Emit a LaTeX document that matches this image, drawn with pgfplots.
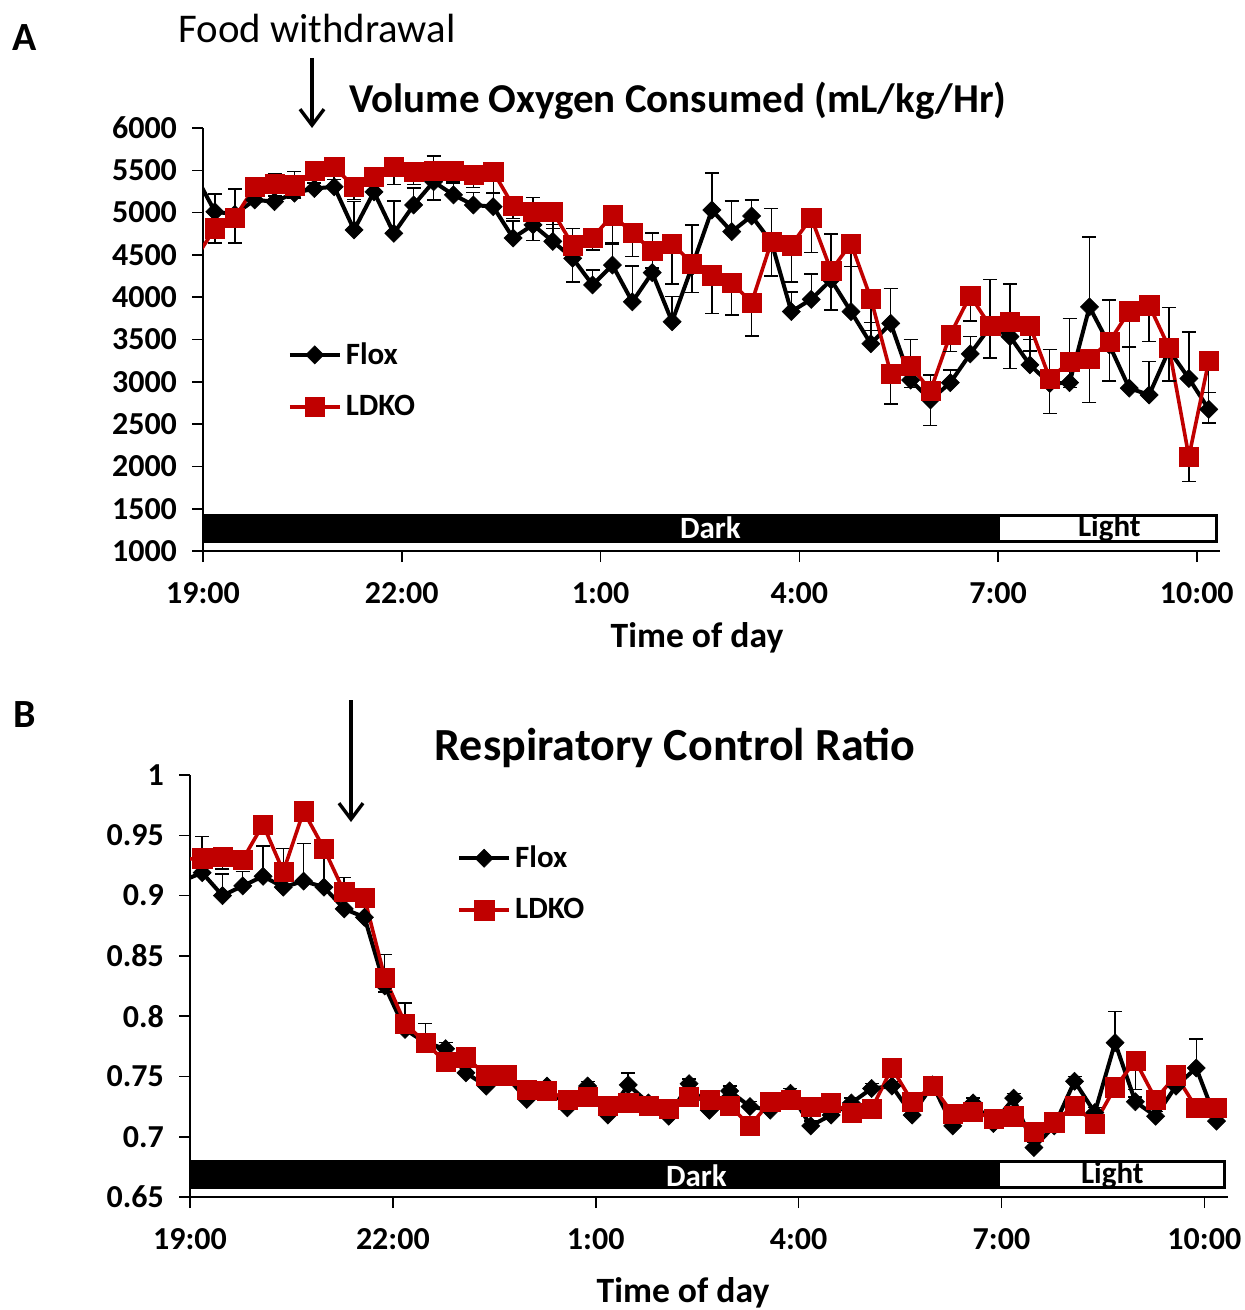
\documentclass[border=0pt]{standalone}
\usepackage{fontspec}
\setmainfont{Carlito}
\usepackage{pgfplots}
\usepackage{pgfplotstable}
\pgfplotsset{compat=1.18}
\usetikzlibrary{arrows.meta}

\definecolor{ldko}{RGB}{192,0,0}

% panel A: volume oxygen consumed, t = hours after 19:00
\pgfplotstableread{
t     flox fe  ldko le
0.18  5010 210 4815 175
0.48  4980 300 4940 300
0.78  5150 200 5305 150
1.08  5130 335 5345 150
1.38  5230 255 5325 150
1.68  5285 150 5500 150
1.98  5305 150 5540 150
2.28  4795 335 5305 150
2.58  5245 150 5425 150
2.88  4755 380 5540 205
3.18  5090 200 5480 150
3.48  5365 305 5500 350
3.78  5210 150 5500 150
4.08  5090 150 5445 150
4.38  5070 160 5485 255
4.68  4700 200 5080 150
4.98  4855 325 5010 340
5.28  4660 200 5010 200
5.58  4460 355 4615 435
5.88  4145 175 4705 145
6.18  4380 250 4970 325
6.48  3945 425 4765 285
6.78  4290 470 4545 200
7.08  3710 300 4635 480
7.38  4360 495 4400 345
7.68  5030 440 4260 450
7.98  4775 360 4175 385
8.28  4960 190 3935 395
8.58  4650 400 4660 410
8.88  3830 230 4615 435
9.18  3975 300 4940 415
9.48  4205 540 4315 465
9.78  3830 530 4635 275
10.08 3450 250 3985 375
10.38 3690 415 3100 360
10.68 3020 480 3190 260
10.98 2785 295 2895 415
11.28 2990 150 3560 205
11.58 3330 205 4020 300
11.88 3650 560 3660 380
12.18 3535 620 3710 550
12.48 3200 300 3665 300
12.78 2980 405 3040 415
13.08 2990 760 3235 300
13.38 3885 825 3275 520
13.68 3435 530 3475 465
13.98 2925 485 3835 425
14.28 2845 395 3905 430
14.58 3375 500 3405 395
14.88 3040 550 2115 290
15.18 2675 200 3245 730
}\tabA

% panel B: respiratory control ratio
\pgfplotstableread{
t     flox  fe    ldko  le
0.18  0.919 0.030 0.931 0.010
0.48  0.900 0.018 0.932 0.010
0.78  0.908 0.012 0.930 0.008
1.08  0.916 0.025 0.959 0.008
1.38  0.907 0.032 0.920 0.008
1.68  0.912 0.031 0.970 0.008
1.98  0.907 0.028 0.939 0.008
2.28  0.889 0.026 0.903 0.008
2.58  0.882 0.010 0.898 0.008
2.88  0.825 0.026 0.832 0.012
3.18  0.789 0.022 0.794 0.008
3.48  0.778 0.016 0.778 0.008
3.78  0.773 0.005 0.762 0.006
4.08  0.753 0.005 0.766 0.006
4.38  0.742 0.004 0.751 0.006
4.68  0.750 0.004 0.751 0.006
4.98  0.731 0.004 0.739 0.006
5.28  0.742 0.004 0.738 0.006
5.58  0.724 0.004 0.731 0.006
5.88  0.742 0.004 0.733 0.006
6.18  0.718 0.004 0.726 0.006
6.48  0.743 0.010 0.728 0.006
6.78  0.728 0.004 0.726 0.006
7.08  0.717 0.004 0.723 0.006
7.38  0.744 0.004 0.733 0.006
7.68  0.722 0.004 0.731 0.006
7.98  0.738 0.004 0.726 0.006
8.28  0.725 0.004 0.709 0.006
8.58  0.722 0.004 0.729 0.006
8.88  0.736 0.004 0.731 0.006
9.18  0.709 0.004 0.725 0.006
9.48  0.718 0.004 0.728 0.006
9.78  0.728 0.004 0.720 0.006
10.08 0.740 0.004 0.723 0.006
10.38 0.742 0.004 0.757 0.006
10.68 0.718 0.004 0.729 0.006
10.98 0.743 0.004 0.742 0.006
11.28 0.709 0.004 0.719 0.006
11.58 0.728 0.004 0.721 0.006
11.88 0.711 0.004 0.715 0.006
12.18 0.732 0.004 0.717 0.006
12.48 0.691 0.004 0.704 0.006
12.78 0.709 0.004 0.712 0.006
13.08 0.746 0.004 0.726 0.006
13.38 0.720 0.004 0.711 0.006
13.68 0.778 0.026 0.741 0.006
13.98 0.729 0.004 0.763 0.024
14.28 0.717 0.004 0.731 0.006
14.58 0.742 0.004 0.751 0.006
14.88 0.757 0.024 0.724 0.006
15.18 0.713 0.004 0.724 0.006
}\tabB

\pgfplotsset{
  panel/.style={
    scale only axis,
    axis x line*=bottom, axis y line*=left,
    axis line style={-, black, line width=0.8pt},
    tick align=outside,
    major tick length=5.5pt,
    tick style={black, line width=0.8pt},
    xmin=0, xmax=15.35,
    xtick={0,3,6,9,12,15},
    xticklabels={19:00,22:00,1:00,4:00,7:00,10:00},
    ticklabel style={font=\bfseries\fontsize{16}{18}\selectfont},
    xticklabel style={yshift=-6.5pt},
    yticklabel style={xshift=-4pt},
    /pgf/number format/assume math mode=true,
    /pgf/number format/1000 sep={},
    legend cell align=left,
    legend image code/.code={\draw[mark repeat=2,mark phase=2,##1] plot coordinates {(0pt,0pt) (12.5pt,0pt) (25pt,0pt)};},
  },
  floxline/.style={black, line width=2pt, mark=square*, mark size=3.2pt,
    mark options={rotate=45, solid, line width=0.3pt}},
  ldkoline/.style={ldko, line width=1.8pt, mark=square*, mark size=4.8pt,
    mark options={solid, line width=0.2pt}},
  errs/.style={error bars/.cd, y dir=#1, y explicit,
    error bar style={black, line width=0.7pt},
    error mark options={rotate=90, black, mark size=3.5pt, line width=0.7pt}},
}

\begin{document}
\begin{tikzpicture}
\useasboundingbox (0,0) rectangle (622.5pt,-655pt);

% ---------------- panel A ----------------
\begin{axis}[panel,
  at={(101.5pt,-275.5pt)}, anchor=south west,
  width=508.5pt, height=211.5pt,
  ymin=1000, ymax=6000, ytick distance=500,
  legend style={draw=none, fill=none, at={(0.083,0.403)}, anchor=west,
    font=\bfseries\fontsize{15.5}{18}\selectfont, row sep=10pt, inner sep=0pt},
]
\fill[black] (axis cs:0,1095) rectangle (axis cs:12,1440);
\filldraw[fill=white, draw=black, line width=1.5pt] (axis cs:12.01,1113) rectangle (axis cs:15.3,1422);
\node[white, font=\bfseries\fontsize{15.5}{18}\selectfont] at (axis cs:7.66,1270) {Dark};
\node[black, font=\bfseries\fontsize{15.5}{18}\selectfont] at (axis cs:13.68,1270) {Light};

\addplot[black, line width=2pt, forget plot] coordinates {(-0.12,5450) (0.18,5010)};
\addplot[ldko, line width=1.8pt, forget plot] coordinates {(-0.12,4450) (0.18,4815)};
\addplot[floxline, errs=plus] table[x=t, y=flox, y error=fe] {\tabA};
\addplot[ldkoline, errs=minus] table[x=t, y=ldko, y error=le] {\tabA};
\legend{Flox, LDKO}
\end{axis}

% ---------------- panel B ----------------
\begin{axis}[panel,
  at={(95pt,-598.5pt)}, anchor=south west,
  width=519pt, height=211pt,
  ymin=0.65, ymax=1, ytick distance=0.05,
  legend style={draw=none, fill=none, at={(0.257,0.742)}, anchor=west,
    font=\bfseries\fontsize{15.5}{18}\selectfont, row sep=10pt, inner sep=0pt},
]
\fill[black] (axis cs:0,0.6565) rectangle (axis cs:11.95,0.681);
\filldraw[fill=white, draw=black, line width=1.5pt] (axis cs:11.96,0.6577) rectangle (axis cs:15.3,0.6798);
\node[white, font=\bfseries\fontsize{15.5}{18}\selectfont] at (axis cs:7.49,0.668) {Dark};
\node[black, font=\bfseries\fontsize{15.5}{18}\selectfont] at (axis cs:13.64,0.668) {Light};

\addplot[black, line width=2pt, forget plot] coordinates {(-0.12,0.912) (0.18,0.919)};
\addplot[ldko, line width=1.8pt, forget plot] coordinates {(-0.12,0.930) (0.18,0.931)};
\addplot[floxline, errs=plus] table[x=t, y=flox, y error=fe] {\tabB};
\addplot[ldkoline, errs=minus] table[x=t, y=ldko, y error=le] {\tabB};
\legend{Flox, LDKO}
\end{axis}

% ---------------- annotations ----------------
\node[font=\bfseries\fontsize{20}{24}\selectfont] at (12.5pt,-19pt) {A};
\node[font=\fontsize{20.4}{24}\selectfont] at (158.5pt,-14pt) {Food withdrawal};
\draw[line width=1.7pt, -{Straight Barb[length=8pt,width=12pt,line width=1.7pt]}] (156pt,-29pt) -- (156pt,-64pt);
\node[font=\bfseries\fontsize{20.5}{24}\selectfont] at (339pt,-50.5pt) {Volume Oxygen Consumed (mL/kg/Hr)};
\node[font=\bfseries\fontsize{17.8}{21}\selectfont] at (348.5pt,-319pt) {Time of day};

\node[font=\bfseries\fontsize{20}{24}\selectfont] at (12.5pt,-357.5pt) {B};
\draw[line width=1.7pt, -{Straight Barb[length=8pt,width=12pt,line width=1.7pt]}] (175.5pt,-350pt) -- (175.5pt,-411pt);
\node[font=\bfseries\fontsize{23}{27}\selectfont] at (337.5pt,-374pt) {Respiratory Control Ratio};
\node[font=\bfseries\fontsize{17.8}{21}\selectfont] at (341.5pt,-646.5pt) {Time of day};
\end{tikzpicture}
\end{document}
